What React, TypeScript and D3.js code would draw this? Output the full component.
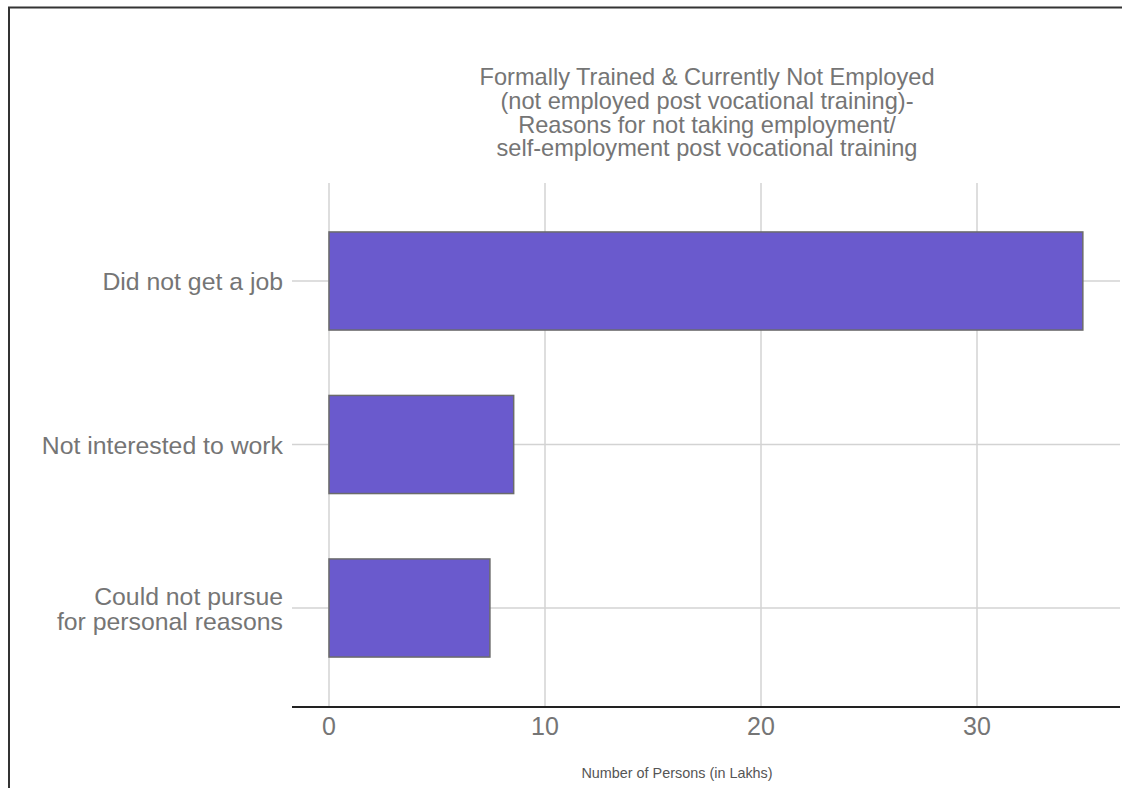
import React from "react";
import * as d3 from "d3";

const categories: string[][] = [
  ["Did not get a job"],
  ["Not interested to work"],
  ["Could not pursue", "for personal reasons"],
];
const values: number[] = [34.9, 8.55, 7.45];
const xTicks: number[] = [0, 10, 20, 30];
const titleLines: string[] = [
  "Formally Trained & Currently Not Employed",
  "(not employed post vocational training)-",
  "Reasons for not taking employment/",
  "self-employment post vocational training",
];
const xAxisTitle = "Number of Persons (in Lakhs)";

export default function App() {
  const W = 1122, H = 788;
  const font = "'Liberation Sans', Arial, sans-serif";
  const textColor = "#757575";
  const x = d3.scaleLinear().domain([0, 10]).range([329, 545]);
  const keys = categories.map((c) => c.join(" "));
  const y = d3.scalePoint<string>().domain(keys).range([281, 608]);
  const step = y.step();
  const barH = step * 0.6;
  const plotLeft = 292, plotRight = 1120, plotTop = 183, plotBottom = 707;

  return (
    <svg width={W} height={H} style={{ position: "absolute", left: 0, top: 0 }}>
      <rect x={0} y={0} width={W} height={H} fill="#fff" />
      <line x1={8} y1={7.5} x2={W} y2={7.5} stroke="#333" strokeWidth={2} />
      <line x1={9} y1={7} x2={9} y2={H} stroke="#333" strokeWidth={2} />
      {titleLines.map((t, i) => (
        <text key={i} x={707} y={85 + i * 23.8} textAnchor="middle" fontFamily={font} fontSize={23.6} fill={textColor}>
          {t}
        </text>
      ))}
      {xTicks.map((t) => (
        <line key={"g" + t} x1={x(t)} x2={x(t)} y1={plotTop} y2={plotBottom} stroke="#d3d3d3" strokeWidth={1.5} />
      ))}
      {keys.map((k) => (
        <line key={"h" + k} x1={plotLeft} x2={plotRight} y1={y(k)!} y2={y(k)!} stroke="#d3d3d3" strokeWidth={1.5} />
      ))}
      {values.map((v, i) => (
        <rect key={"b" + i} x={x(0)} y={y(keys[i])! - barH / 2} width={x(v) - x(0)} height={barH}
          fill="#6a5acd" stroke="#6b6b6b" strokeWidth={1.5} />
      ))}
      {categories.map((lines, i) => (
        <text key={"c" + i} textAnchor="end" fontFamily={font} fontSize={24.8} fill={textColor}>
          {lines.map((l, j) => (
            <tspan key={j} x={283} y={y(keys[i])! + 9 + (j - (lines.length - 1) / 2) * 25}>{l}</tspan>
          ))}
        </text>
      ))}
      <line x1={plotLeft} x2={plotRight} y1={plotBottom} y2={plotBottom} stroke="#222" strokeWidth={2} />
      {xTicks.map((t) => (
        <text key={"t" + t} x={x(t)} y={735} textAnchor="middle" fontFamily={font} fontSize={25} fill={textColor}>
          {t}
        </text>
      ))}
      <text x={677} y={778} textAnchor="middle" fontFamily={font} fontSize={14.4} fill="#555">
        {xAxisTitle}
      </text>
    </svg>
  );
}
